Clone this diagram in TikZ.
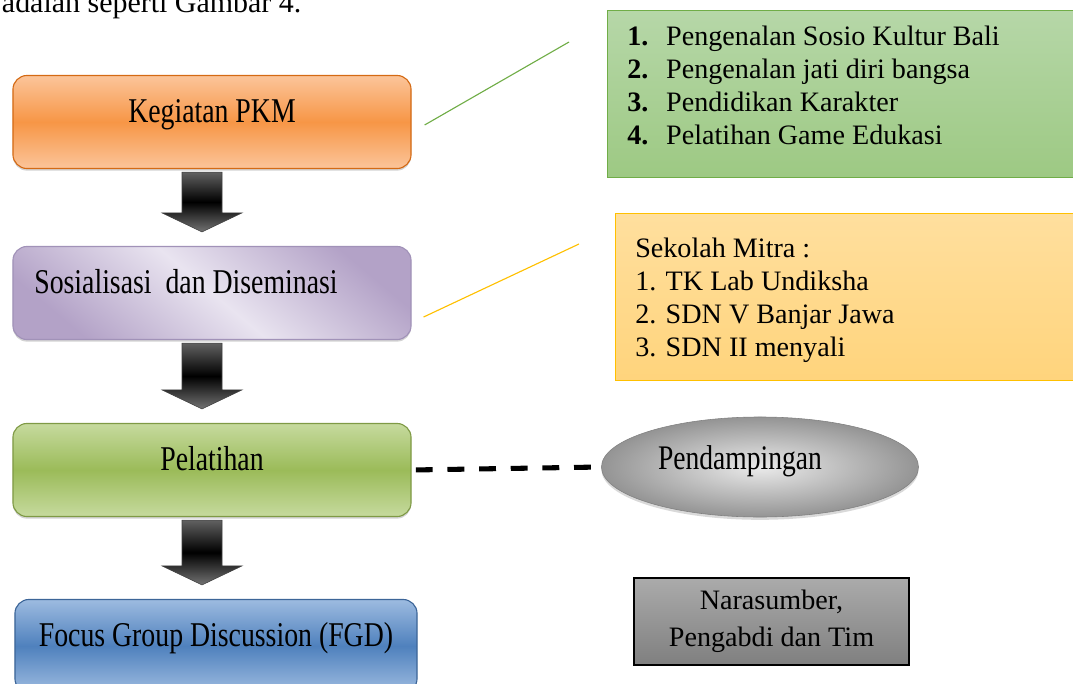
\documentclass[tikz,border=0pt]{standalone}
\usepackage{fontspec}
\setmainfont{Liberation Serif}
\newfontfamily\narrowfont[FakeStretch=0.8]{Liberation Serif}
\usetikzlibrary{calc,shapes.geometric,shadows}

\definecolor{kegiatanmid}{HTML}{F79646}
\definecolor{kegiatanlight}{HTML}{FBC59A}
\definecolor{kegiatanedge}{HTML}{D46A14}
\definecolor{sosdark}{HTML}{B3A2C7}
\definecolor{soslight}{HTML}{E9E4F0}
\definecolor{sosedge}{HTML}{A192B8}
\definecolor{latihmid}{HTML}{9BBB59}
\definecolor{latihlight}{HTML}{C6DA9E}
\definecolor{latihedge}{HTML}{7F9A45}
\definecolor{fgdmid}{HTML}{4F81BD}
\definecolor{fgdlight}{HTML}{9DBBE0}
\definecolor{fgdedge}{HTML}{3C6598}
\definecolor{materitop}{HTML}{B6D7A8}
\definecolor{materibot}{HTML}{9DC983}
\definecolor{materiedge}{HTML}{70AD47}
\definecolor{mitratop}{HTML}{FFDF9E}
\definecolor{mitrabot}{HTML}{FFD47C}
\definecolor{mitraedge}{HTML}{FFC000}

\newcommand{\listnum}[1]{\makebox[27.7pt][l]{\textbf{#1.}}}

\begin{document}
\begin{tikzpicture}[x=0.025cm,y=-0.025cm,every node/.style={font=\fontsize{20}{23.5}\selectfont},
  stepbox/.style={rectangle,rounded corners=0.35cm,minimum width=9.95cm,minimum height=2.325cm,
    inner sep=0pt,line width=0.8pt,text height=10pt,text depth=10pt,
    drop shadow={shadow xshift=0pt,shadow yshift=-1.5pt,opacity=0.35},
    font=\narrowfont\fontsize{24.7}{28}\selectfont},
  listbox/.style={rectangle,anchor=north west,minimum width=12cm,minimum height=4.175cm,line width=0.8pt},
  listtext/.style={anchor=north west,align=left,inner sep=0pt}]
  \useasboundingbox (0,0) rectangle (1073,684);
  \clip (0,0) rectangle (1073,684);
  \newcommand{\blockarrow}[2]{%
    \shade[top color=black!62,bottom color=black!55,middle color=black,draw=black!75,line width=0.4pt]
      ($(#1.south)+(-30,3)$) -- ($(#1.south|-#2.north)+(-30,-33)$)
      -- ($(#1.south|-#2.north)+(-50,-33)$) -- ($(#1.south|-#2.north)+(-10,-14)$)
      -- ($(#1.south|-#2.north)+(30,-33)$) -- ($(#1.south|-#2.north)+(10,-33)$)
      -- ($(#1.south)+(10,3)$) -- cycle;}
  \node[anchor=base west,font=\fontsize{21.3}{24}\selectfont] (intro) at (-3,13) {adalah seperti Gambar 4.};

  \node[stepbox,top color=kegiatanlight,bottom color=kegiatanlight,middle color=kegiatanmid,draw=kegiatanedge] (kegiatan) at (212,122) {Kegiatan PKM};
  \node[stepbox,top color=sosdark,bottom color=sosdark,middle color=soslight,shading angle=-40,draw=sosedge] (sosialisasi) at (212,293) {Sosialisasi\ \ dan Diseminasi\kern1.3cm};
  \node[stepbox,top color=latihlight,bottom color=latihlight,middle color=latihmid,draw=latihedge] (pelatihan) at (212,470) {Pelatihan};
  \node[stepbox,minimum width=10.05cm,top color=fgdlight,bottom color=fgdlight,middle color=fgdmid,draw=fgdedge] (fgd) at (216,646) {Focus Group Discussion (FGD)};
  \blockarrow{kegiatan}{sosialisasi}
  \blockarrow{sosialisasi}{pelatihan}
  \blockarrow{pelatihan}{fgd}

  \node[listbox,top color=materitop,bottom color=materibot,draw=materiedge] (materi) at (607,10) {};
  \node[listtext] (materitext) at ($(materi.north west)+(20,16)$) {\listnum{1}Pengenalan Sosio Kultur Bali\\
    \listnum{2}Pengenalan jati diri bangsa\\
    \listnum{3}Pendidikan Karakter\\
    \listnum{4}Pelatihan Game Edukasi};
  \node[listbox,top color=mitratop,bottom color=mitrabot,draw=mitraedge] (mitra) at (615,213) {};
  \node[listtext] (mitratext) at ($(mitra.north west)+(20,25)$) {Sekolah Mitra :\\1. TK Lab Undiksha\\2. SDN V Banjar Jawa\\3. SDN II menyali};
  \draw[materiedge,line width=0.8pt] ($(kegiatan.east)+(13,3)$) -- ($(materi.north west)+(-38,32)$);
  \draw[mitraedge,line width=0.8pt] ($(sosialisasi.east)+(12,24)$) -- ($(mitra.north west)+(-36,31)$);

  \node[ellipse,minimum width=7.925cm,minimum height=2.5cm,inner sep=0pt,draw=black!50,inner color=black!8,outer color=black!42,
    drop shadow={shadow xshift=0pt,shadow yshift=-2pt,opacity=0.3},
    font=\narrowfont\fontsize{24.5}{28}\selectfont,text height=12pt,text depth=9pt] (pendampingan) at (760,467) {Pendampingan\kern1cm};
  \draw[line width=3.6pt,dash pattern=on 12pt off 10.5pt,shorten <=3pt] (pelatihan.east) -- (pendampingan.west);

  \node[rectangle,minimum width=6.875cm,minimum height=2.175cm,draw=black,line width=1pt,top color=black!33,bottom color=black!50,
    align=center,font=\fontsize{20}{26.3}\selectfont] (narasumber) at (771.5,621.5) {Narasumber,\\Pengabdi dan Tim};
\end{tikzpicture}
\end{document}
